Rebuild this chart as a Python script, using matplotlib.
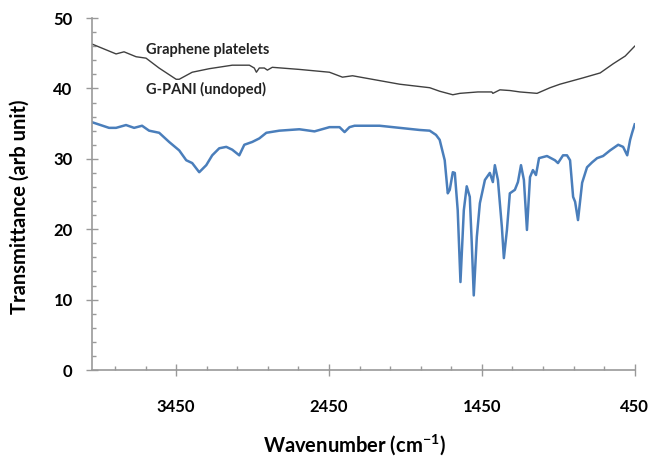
import matplotlib
matplotlib.use("Agg")
import matplotlib.pyplot as plt
from matplotlib.ticker import MultipleLocator, FixedLocator

plt.rcParams['font.family'] = ['Lato', 'DejaVu Sans']
plt.rcParams['mathtext.fontset'] = 'custom'
plt.rcParams['mathtext.rm'] = 'Lato'
plt.rcParams['mathtext.bf'] = 'Lato:bold'

# graphene platelets
gr_wn = [4000, 3843, 3791, 3712, 3647, 3562, 3450, 3430, 3345, 3234, 3083, 2971,
         2939, 2925, 2906, 2873, 2853, 2821, 2644, 2447, 2362, 2296, 1988, 1791,
         1726, 1640, 1594, 1476, 1385, 1378, 1332, 1266, 1201, 1089, 1004, 939,
         788, 676, 591, 512, 450]
gr_t = [46.3, 44.9, 45.2, 44.5, 44.3, 42.9, 41.3, 41.3, 42.3, 42.8, 43.3, 43.3,
        42.9, 42.3, 42.9, 42.9, 42.6, 43.0, 42.7, 42.3, 41.6, 41.8, 40.6, 40.1,
        39.6, 39.1, 39.3, 39.5, 39.5, 39.3, 39.8, 39.7, 39.5, 39.3, 40.1, 40.6,
        41.5, 42.2, 43.5, 44.6, 46.0]

# G-PANI (undoped)
pani_wn = [4000, 3889, 3843, 3778, 3725, 3673, 3627, 3561, 3496, 3430, 3384, 3345,
           3299, 3253, 3214, 3168, 3122, 3083, 3037, 3004, 2952, 2906, 2860, 2775,
           2644, 2545, 2447, 2381, 2348, 2316, 2283, 2119, 1988, 1857, 1791, 1750,
           1726, 1693, 1673, 1660, 1640, 1627, 1608, 1590, 1568, 1549, 1529, 1516,
           1503, 1483, 1463, 1430, 1398, 1378, 1365, 1345, 1319, 1306, 1286, 1267,
           1234, 1214, 1194, 1175, 1155, 1135, 1116, 1096, 1076, 1024, 972, 952,
           919, 893, 873, 853, 840, 821, 794, 762, 729, 696, 657, 611,
           558, 526, 499, 480, 467, 450]
pani_t = [35.2, 34.4, 34.4, 34.8, 34.4, 34.7, 34.0, 33.7, 32.4, 31.2, 29.8, 29.4,
          28.1, 29.1, 30.5, 31.5, 31.7, 31.3, 30.5, 32.0, 32.4, 32.9, 33.7, 34.0,
          34.2, 33.9, 34.5, 34.5, 33.8, 34.5, 34.7, 34.7, 34.4, 34.1, 34.0, 33.4,
          32.7, 29.8, 25.1, 25.6, 28.1, 28.0, 22.7, 12.5, 22.7, 26.1, 24.6, 18.0,
          10.6, 18.9, 23.7, 27.0, 28.0, 26.7, 29.1, 27.0, 20.3, 15.9, 19.9, 25.1,
          25.6, 26.7, 29.1, 27.0, 19.9, 27.4, 28.4, 27.7, 30.1, 30.4, 29.8, 29.4,
          30.5, 30.5, 29.8, 24.6, 23.9, 21.3, 26.6, 28.8, 29.5, 30.1, 30.4, 31.2,
          32.0, 31.7, 30.5, 32.7, 33.7, 34.9]

x_ticks = [3450, 2450, 1450, 450]
y_ticks = [0, 10, 20, 30, 40, 50]

fig = plt.figure(figsize=(6.53, 4.62), dpi=100)
ax = fig.add_axes([0.141, 0.199, 0.831, 0.762])

ax.plot(gr_wn, gr_t, color='#404040', lw=1.0)
ax.plot(pani_wn, pani_t, color='#4a7ebb', lw=1.8)

ax.text(3647, 45.5, 'Graphene platelets', fontsize=10.5, fontweight='bold',
        va='center', ha='left', color='#222222')
ax.text(3647, 39.9, 'G-PANI (undoped)', fontsize=10.5, fontweight='bold',
        va='center', ha='left', color='#222222')

ax.set_xlim(4000, 450)
ax.set_ylim(0, 50)
ax.xaxis.set_major_locator(FixedLocator(x_ticks))
ax.xaxis.set_minor_locator(FixedLocator(list(range(450, 4000, 200))))
ax.yaxis.set_major_locator(FixedLocator(y_ticks))
ax.yaxis.set_minor_locator(MultipleLocator(2))

for s in ['top', 'right']:
    ax.spines[s].set_visible(False)
for s in ['left', 'bottom']:
    ax.spines[s].set_color('#999999')
    ax.spines[s].set_linewidth(1.2)

ax.tick_params(which='major', direction='inout', length=8, width=1.0, color='#999999')
ax.tick_params(which='minor', direction='in', length=3, width=1.0, color='#999999')
ax.tick_params(axis='x', which='major', pad=17, labelsize=12)
ax.tick_params(axis='y', which='major', pad=10, labelsize=12)
for lab in ax.get_xticklabels() + ax.get_yticklabels():
    lab.set_fontweight('bold')

xl = ax.set_xlabel('Wavenumber (cm$^{\\mathbf{-1}}$)', fontsize=14.5, fontweight='bold')
yl = ax.set_ylabel('Transmittance (arb unit)', fontsize=14.5, fontweight='bold')
xl.set_va('center')
yl.set_va('center')
ax.xaxis.set_label_coords(0.4825, -0.213)
ax.yaxis.set_label_coords(-0.133, 0.463)

fig.savefig('out.png', dpi=100)
